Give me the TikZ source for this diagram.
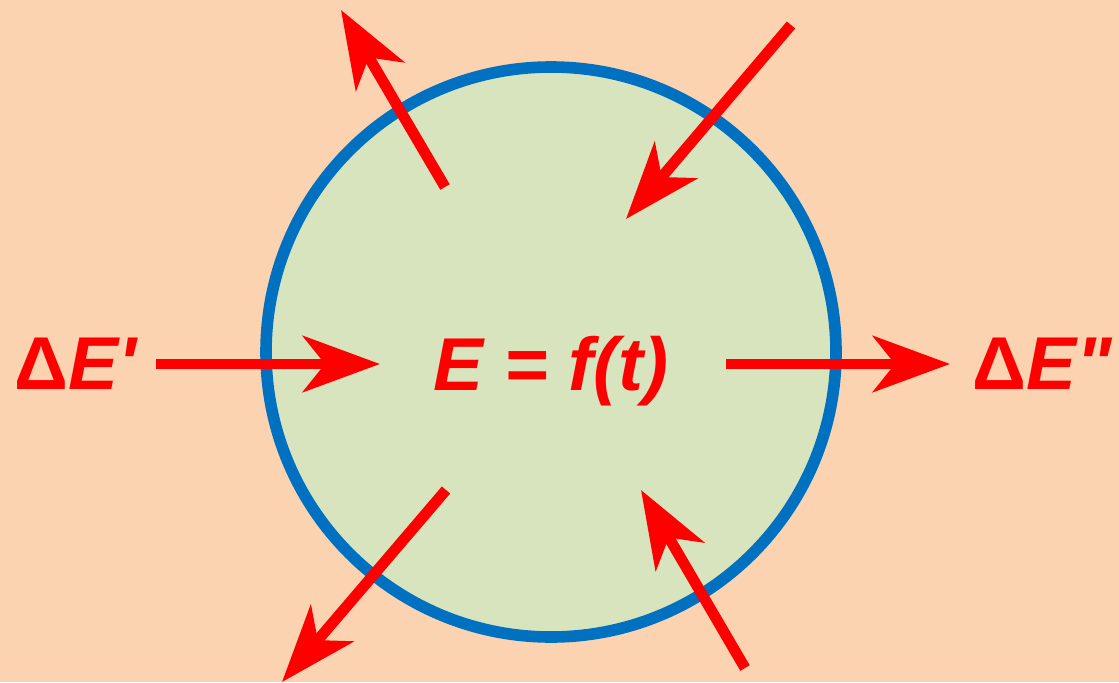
\documentclass[tikz,border=0pt]{standalone}
\usepackage{fontspec}
\setmainfont{Liberation Sans}[Ligatures=TeXOff]
\usepackage{xcolor}
\usepackage{tikz}
\usetikzlibrary{arrows.meta}

\definecolor{peach}{HTML}{FBD3B1}
\definecolor{sage}{HTML}{D7E4BD}
\definecolor{rimblue}{HTML}{0070C0}
\definecolor{flux}{HTML}{FF0000}

\begin{document}
\begin{tikzpicture}[x=0.01cm,y=-0.01cm,
  arr/.style={-{Stealth[length=7.7mm,width=5.6mm,inset=2.2mm]},line width=3.1pt,flux},
  lab/.style={font=\fontsize{21.3}{26}\selectfont\bfseries\itshape,text=flux,inner sep=0pt}]
  % Background
  \fill[peach] (0,0) rectangle (1119,682);
  \useasboundingbox (0,0) rectangle (1119,682);
  % System boundary
  \draw[line width=3.3pt,rimblue,fill=sage] (551,352) circle[radius=285];
  % Labels
  \node[lab,anchor=base west] (dEin) at (14,389) {\upshape Δ\itshape E'};
  \node[lab,anchor=base] (eq) at (551,390) {E = f(t)};
  \node[lab,anchor=base west] (dEout) at (972,389) {\upshape Δ\itshape E"};
  % Arrow ends
  \coordinate (inTail) at (156,364);
  \coordinate (inTip) at (380,364);
  \coordinate (outTail) at (726,364);
  \coordinate (outTip) at (950,364);
  \coordinate (ulTail) at (445,187);
  \coordinate (ulTip) at (341,10);
  \coordinate (urTail) at (791,25);
  \coordinate (urTip) at (626,219);
  \coordinate (llTail) at (446,490);
  \coordinate (llTip) at (282,682);
  \coordinate (lrTail) at (745,668);
  \coordinate (lrTip) at (641,490);
  % Energy in and out
  \draw[arr] (inTail) -- (inTip);
  \draw[arr] (outTail) -- (outTip);
  % Other exchanges
  \draw[arr] (ulTail) -- (ulTip);
  \draw[arr] (urTail) -- (urTip);
  \draw[arr] (llTail) -- (llTip);
  \draw[arr] (lrTail) -- (lrTip);
\end{tikzpicture}
\end{document}
